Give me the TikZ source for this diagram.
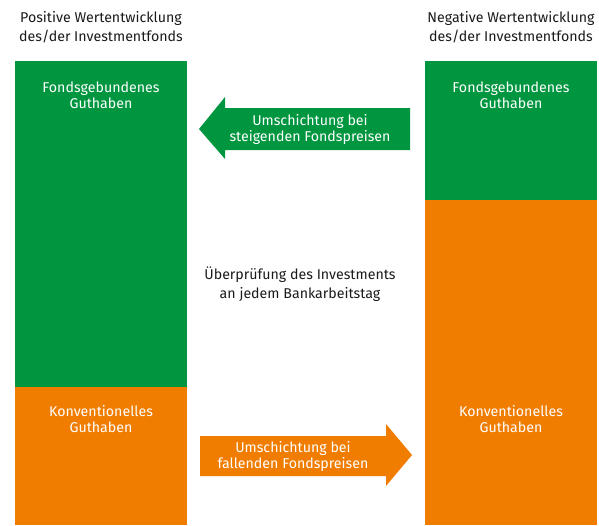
\documentclass[tikz,border=0pt]{standalone}
\usepackage{fontspec}
\setmainfont{Fira Sans}
\definecolor{sgreen}{RGB}{0,150,64}
\definecolor{sorange}{RGB}{240,125,0}
\definecolor{stext}{RGB}{26,26,26}
\begin{document}
\begin{tikzpicture}[x=1pt,y=-1pt,
  head/.style={text=stext,align=center,font=\fontsize{14.2}{19}\selectfont},
  boxtext/.style={text=white,align=center,font=\fontsize{14.2}{16}\selectfont},
  midtext/.style={text=stext,align=center,font=\fontsize{14.2}{19}\selectfont}]
\useasboundingbox (0,0) rectangle (599,525);
% left column
\fill[sgreen] (15,61) rectangle (187,387);
\fill[sorange] (15,387) rectangle (187,525);
% right column
\fill[sgreen] (425,61) rectangle (597,200);
\fill[sorange] (425,200) rectangle (597,525);
% top arrow (left)
\fill[sgreen] (410,108) -- (225,108) -- (225,97) -- (199,129) -- (225,159) -- (225,150) -- (410,150) -- cycle;
% bottom arrow (right)
\fill[sorange] (200,436) -- (386,436) -- (386,424) -- (412,455) -- (386,486) -- (386,476) -- (200,476) -- cycle;
% texts
\node[head] (hl) at (101,27) {Positive Wertentwicklung\\des/der Investmentfonds};
\node[head] (hr) at (511,27) {Negative Wertentwicklung\\des/der Investmentfonds};
\node[boxtext] (fl) at (101,95) {Fondsgebundenes\\Guthaben};
\node[boxtext] (fr) at (511,95) {Fondsgebundenes\\Guthaben};
\node[boxtext] (kl) at (101,419) {Konventionelles\\Guthaben};
\node[boxtext] (kr) at (511,419) {Konventionelles\\Guthaben};
\node[boxtext] (at) at (310,129) {Umschichtung bei\\steigenden Fondspreisen};
\node[boxtext] (ab) at (293,456) {Umschichtung bei\\fallenden Fondspreisen};
\node[midtext] (mid) at (300,284) {Überprüfung des Investments\\an jedem Bankarbeitstag};
\end{tikzpicture}
\end{document}
